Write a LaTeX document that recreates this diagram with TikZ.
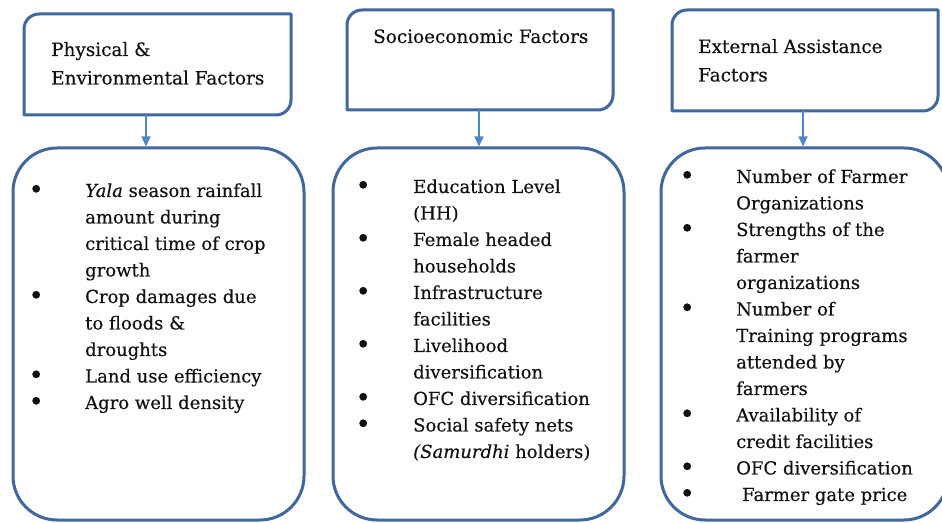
\documentclass[tikz,border=0pt]{standalone}
\usepackage{fontspec}
\setmainfont{DejaVu Serif}[FakeBold=0.3]
\usetikzlibrary{arrows.meta,calc}
\definecolor{bordercol}{HTML}{41689C}
\definecolor{arrowcol}{HTML}{4F86C6}
\definecolor{txtcol}{HTML}{111111}
\newcommand{\bigdot}{\raisebox{-1.5pt}{\scalebox{1.45}{\textbullet}}}
\newcommand{\bulA}{\makebox[55pt][l]{\makebox[12pt]{\bigdot}}}
\newcommand{\bulB}{\makebox[56pt][l]{\makebox[12pt]{\bigdot}}}
\tikzset{
  boxshape/.style={rectangle, inner sep=0pt, outer sep=0pt},
  bigbox/.style={boxshape, draw=bordercol, line width=3pt, rounded corners=44pt},
  titletext/.style={anchor=base west, inner sep=0pt, text=txtcol, font=\fontsize{18.4}{28.5}\selectfont},
  listtext/.style={anchor=base west, inner sep=0pt, text=txtcol, font=\fontsize{18}{26.5}\selectfont},
  border/.style={draw=bordercol, line width=3pt, line join=round},
  arr/.style={draw=arrowcol, line width=1.5pt, -{Triangle[width=9pt,length=10pt]}, shorten >=1.5pt}
}
\begin{document}
\begin{tikzpicture}[x=1pt,y=1pt]
\clip (0,0) rectangle (942,522);
\fill[white] (0,0) rectangle (942,522);

% top boxes
\node[boxshape, minimum width=267pt, minimum height=101pt] (tp) at (157.5,457.5) {};
\node[boxshape, minimum width=266pt, minimum height=100pt] (ts) at (480,462) {};
\node[boxshape, minimum width=266pt, minimum height=101pt] (te) at (805,461.5) {};
\foreach \n in {tp,ts,te}{
  \draw[border] (\n.south west) -- ([yshift=-15pt]\n.north west)
    arc[start angle=180, end angle=90, radius=15pt] -- (\n.north east)
    -- ([yshift=15pt]\n.south east)
    arc[start angle=0, end angle=-90, radius=15pt] -- cycle;
}

% big boxes
\node[bigbox, minimum width=291pt, minimum height=372pt] (bp) at (158.5,188) {};
\node[bigbox, minimum width=291pt, minimum height=372pt] (bs) at (478.5,188) {};
\node[bigbox, minimum width=287pt, minimum height=372pt] (be) at (804.5,188) {};

% arrows
\draw[arr] ([xshift=-11.5pt]tp.south) -- ([xshift=-11.5pt]tp.south |- bp.north);
\draw[arr] ([xshift=-1pt]ts.south) -- ([xshift=-1pt]ts.south |- bs.north);
\draw[arr] ([xshift=-2pt]te.south) -- ([xshift=-2pt]te.south |- be.north);

% titles
\node[titletext] (ttp) at (51,466) {\begin{tabular}[t]{@{}l@{}}Physical \&\\Environmental Factors\end{tabular}};
\node[titletext] (tts) at (373,479) {\begin{tabular}[t]{@{}l@{}}Socioeconomic Factors\end{tabular}};
\node[titletext] (tte) at (698,469) {\begin{tabular}[t]{@{}l@{}}External Assistance\\Factors\end{tabular}};

% lists
\node[listtext] (lp) at (30,325) {\begin{tabular}[t]{@{}l@{}l@{}}
\bulA & \textit{Yala} season rainfall\\
 & amount during\\
 & critical time of crop\\
 & growth\\
\bulA & Crop damages due\\
 & to floods \&\\
 & droughts\\
\bulA & Land use efficiency\\
\bulA & Agro well density
\end{tabular}};

\node[listtext] (ls) at (357,329) {\begin{tabular}[t]{@{}l@{}l@{}}
\bulB & Education Level\\
 & (HH)\\
\bulB & Female headed\\
 & households\\
\bulB & Infrastructure\\
 & facilities\\
\bulB & Livelihood\\
 & diversification\\
\bulB & OFC diversification\\
\bulB & Social safety nets\\
 & \textit{(Samurdhi} holders)
\end{tabular}};

\node[listtext] (le) at (681,339) {\begin{tabular}[t]{@{}l@{}l@{}}
\bulA & Number of Farmer\\
 & Organizations\\
\bulA & Strengths of the\\
 & farmer\\
 & organizations\\
\bulA & Number of\\
 & Training programs\\
 & attended by\\
 & farmers\\
\bulA & Availability of\\
 & credit facilities\\
\bulA & OFC diversification\\
\bulA & \hspace{6pt}Farmer gate price
\end{tabular}};
\end{tikzpicture}
\end{document}
